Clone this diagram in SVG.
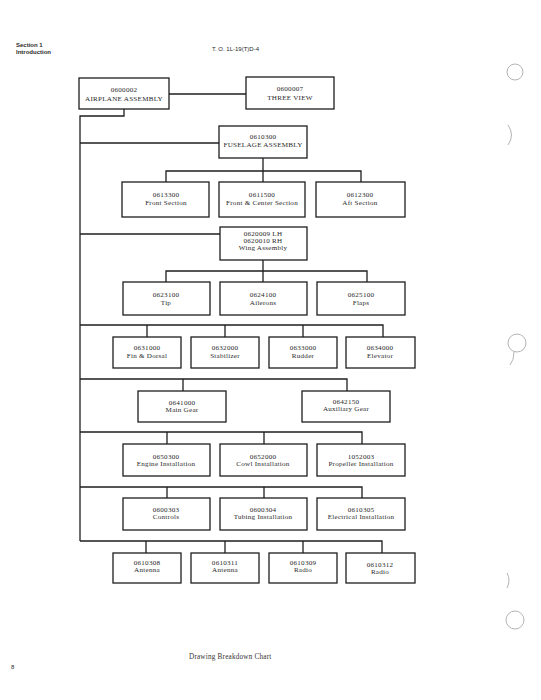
<svg xmlns="http://www.w3.org/2000/svg" width="541" height="700" viewBox="0 0 541 700">
<style>
.bg{fill:#ffffff}
.box{fill:#ffffff;stroke:#1e1e1e;stroke-width:1.3}
.ln{fill:none;stroke:#1e1e1e;stroke-width:1.3}
.t{font-family:"Liberation Serif","DejaVu Serif",serif;font-size:7.1px;letter-spacing:0.25px;fill:#2a2a2a;text-anchor:middle}
.h{font-family:"Liberation Sans","DejaVu Sans",sans-serif;font-size:6px;fill:#2a2a2a}
.cap{font-family:"Liberation Serif","DejaVu Serif",serif;font-size:7.2px;letter-spacing:0.2px;fill:#333}
.hole{fill:none;stroke:#aaaaaa;stroke-width:0.9}
</style>
<rect class="bg" x="0" y="0" width="541" height="700"/>
<g id="header">
<text class="h" x="16" y="47" font-weight="bold">Section 1</text>
<text class="h" x="16" y="54" font-weight="bold">Introduction</text>
<text class="h" x="212" y="51" font-size="6.5">T. O.  1L-19(T)D-4</text>
</g>
<g id="connectors">
<line class="ln" x1="169" y1="94" x2="246" y2="94"/>
<polyline class="ln" points="124,109 124,116 80,116 80,541"/>
<line class="ln" x1="80" y1="143" x2="219" y2="143"/>
<line class="ln" x1="263" y1="158" x2="263" y2="171"/>
<polyline class="ln" points="166,182 166,171 361,171 361,182"/>
<line class="ln" x1="263" y1="171" x2="263" y2="182"/>
<line class="ln" x1="80" y1="234" x2="220" y2="234"/>
<line class="ln" x1="263" y1="260" x2="263" y2="282"/>
<polyline class="ln" points="166,282 166,271 367,271 367,282"/>
<polyline class="ln" points="80,325 383,325 383,337"/>
<line class="ln" x1="147" y1="325" x2="147" y2="337"/>
<line class="ln" x1="225" y1="325" x2="225" y2="337"/>
<line class="ln" x1="303" y1="325" x2="303" y2="337"/>
<polyline class="ln" points="80,379 347,379 347,391"/>
<line class="ln" x1="183" y1="379" x2="183" y2="391"/>
<polyline class="ln" points="80,432 362,432 362,444"/>
<line class="ln" x1="167" y1="432" x2="167" y2="444"/>
<line class="ln" x1="264" y1="432" x2="264" y2="444"/>
<polyline class="ln" points="80,487 362,487 362,498"/>
<line class="ln" x1="167" y1="487" x2="167" y2="498"/>
<line class="ln" x1="264" y1="487" x2="264" y2="498"/>
<polyline class="ln" points="80,541 382,541 382,553"/>
<line class="ln" x1="146" y1="541" x2="146" y2="553"/>
<line class="ln" x1="225" y1="541" x2="225" y2="553"/>
<line class="ln" x1="303" y1="541" x2="303" y2="553"/>
</g>
<g id="n0600002"><rect class="box" x="79" y="78" width="90" height="31"/><text class="t" x="124" y="92">0600002</text><text class="t" x="124" y="101">AIRPLANE ASSEMBLY</text></g>
<g id="n0600007"><rect class="box" x="246" y="77" width="88" height="32"/><text class="t" x="290" y="91">0600007</text><text class="t" x="290" y="100">THREE VIEW</text></g>
<g id="n0610300"><rect class="box" x="219" y="126" width="88" height="32"/><text class="t" x="263" y="139">0610300</text><text class="t" x="263" y="147">FUSELAGE ASSEMBLY</text></g>
<g id="n0613300"><rect class="box" x="122" y="182" width="87" height="35"/><text class="t" x="166" y="197">0613300</text><text class="t" x="166" y="205">Front Section</text></g>
<g id="n0611500"><rect class="box" x="219" y="182" width="86" height="35"/><text class="t" x="262" y="197">0611500</text><text class="t" x="262" y="205">Front &amp; Center Section</text></g>
<g id="n0612300"><rect class="box" x="316" y="182" width="89" height="35"/><text class="t" x="360" y="197">0612300</text><text class="t" x="360" y="205">Aft Section</text></g>
<g id="n0620009"><rect class="box" x="220" y="227" width="87" height="33"/><text class="t" x="263" y="236">0620009 LH</text><text class="t" x="263" y="243">0620010 RH</text><text class="t" x="263" y="250">Wing Assembly</text></g>
<g id="n0623100"><rect class="box" x="123" y="282" width="87" height="33"/><text class="t" x="166" y="297">0623100</text><text class="t" x="166" y="305">Tip</text></g>
<g id="n0624100"><rect class="box" x="220" y="282" width="87" height="33"/><text class="t" x="263" y="297">0624100</text><text class="t" x="263" y="305">Ailerons</text></g>
<g id="n0625100"><rect class="box" x="317" y="282" width="88" height="33"/><text class="t" x="361" y="297">0625100</text><text class="t" x="361" y="305">Flaps</text></g>
<g id="n0631000"><rect class="box" x="113" y="337" width="68" height="31"/><text class="t" x="147" y="350">0631000</text><text class="t" x="147" y="358">Fin &amp; Dorsal</text></g>
<g id="n0632000"><rect class="box" x="191" y="337" width="68" height="31"/><text class="t" x="225" y="350">0632000</text><text class="t" x="225" y="358">Stabilizer</text></g>
<g id="n0633000"><rect class="box" x="269" y="337" width="68" height="31"/><text class="t" x="303" y="350">0633000</text><text class="t" x="303" y="358">Rudder</text></g>
<g id="n0634000"><rect class="box" x="346" y="337" width="69" height="31"/><text class="t" x="380" y="350">0634000</text><text class="t" x="380" y="358">Elevator</text></g>
<g id="n0641000"><rect class="box" x="138" y="391" width="88" height="31"/><text class="t" x="182" y="405">0641000</text><text class="t" x="182" y="412">Main Gear</text></g>
<g id="n0642150"><rect class="box" x="302" y="391" width="88" height="31"/><text class="t" x="346" y="404">0642150</text><text class="t" x="346" y="411">Auxiliary Gear</text></g>
<g id="n0650300"><rect class="box" x="123" y="444" width="87" height="32"/><text class="t" x="166" y="459">0650300</text><text class="t" x="166" y="466">Engine Installation</text></g>
<g id="n0652000"><rect class="box" x="220" y="444" width="87" height="32"/><text class="t" x="263" y="459">0652000</text><text class="t" x="263" y="466">Cowl Installation</text></g>
<g id="n1052003"><rect class="box" x="317" y="444" width="88" height="32"/><text class="t" x="361" y="459">1052003</text><text class="t" x="361" y="466">Propeller Installation</text></g>
<g id="n0600303"><rect class="box" x="123" y="498" width="87" height="32"/><text class="t" x="166" y="512">0600303</text><text class="t" x="166" y="519">Controls</text></g>
<g id="n0600304"><rect class="box" x="220" y="498" width="87" height="32"/><text class="t" x="263" y="512">0600304</text><text class="t" x="263" y="519">Tubing Installation</text></g>
<g id="n0610305"><rect class="box" x="317" y="498" width="88" height="32"/><text class="t" x="361" y="512">0610305</text><text class="t" x="361" y="519">Electrical Installation</text></g>
<g id="n0610308"><rect class="box" x="113" y="553" width="68" height="30"/><text class="t" x="147" y="565">0610308</text><text class="t" x="147" y="572">Antenna</text></g>
<g id="n0610311"><rect class="box" x="191" y="553" width="68" height="30"/><text class="t" x="225" y="565">0610311</text><text class="t" x="225" y="572">Antenna</text></g>
<g id="n0610309"><rect class="box" x="269" y="553" width="68" height="30"/><text class="t" x="303" y="565">0610309</text><text class="t" x="303" y="572">Radio</text></g>
<g id="n0610312"><rect class="box" x="346" y="553" width="69" height="30"/><text class="t" x="380" y="567">0610312</text><text class="t" x="380" y="574">Radio</text></g>
<g id="footer">
<text class="cap" x="189" y="659">Drawing Breakdown Chart</text>
<text class="h" x="11" y="669">8</text>
</g>
<g id="holes">
<circle class="hole" cx="515" cy="72" r="8"/>
<path class="hole" d="M508,125 Q515,135 508,145"/>
<circle class="hole" cx="517" cy="343" r="9"/>
<path class="hole" d="M514,352 Q514,360 510,365"/>
<path class="hole" d="M507,573 Q511,580 507,588"/>
<circle class="hole" cx="515" cy="620" r="9"/>
</g>
</svg>
